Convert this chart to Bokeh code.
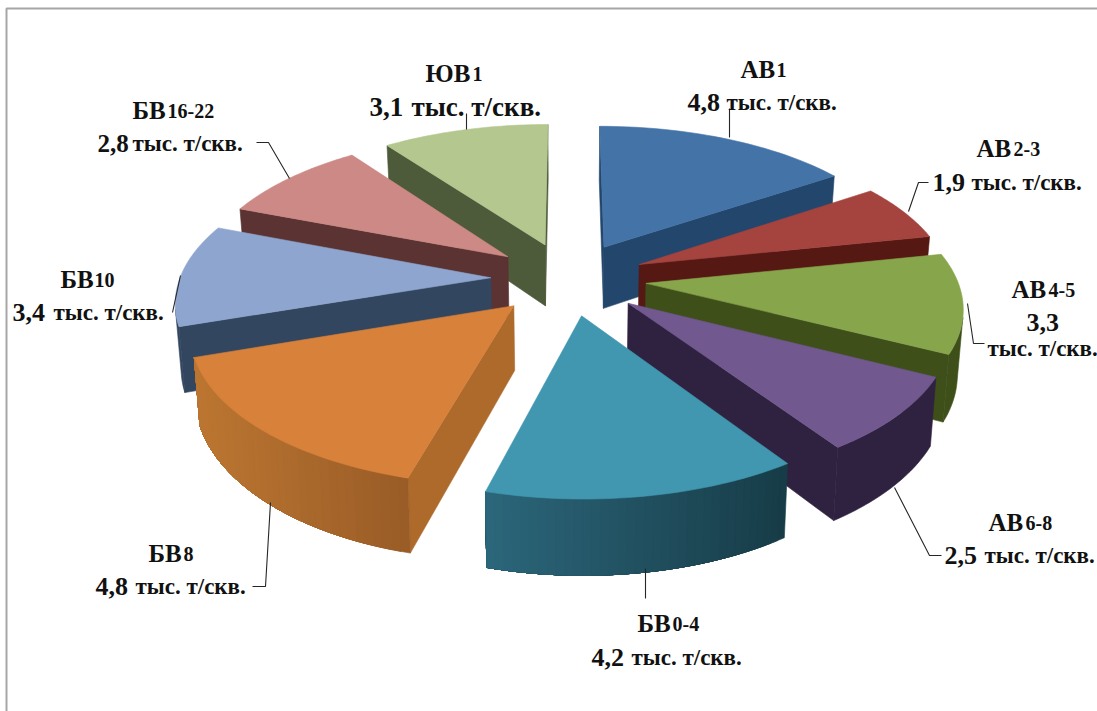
import math
from bokeh.core.properties import value
from bokeh.embed import file_html
from bokeh.models import ColumnDataSource, Range1d
from bokeh.plotting import figure
from bokeh.resources import INLINE

# Chart content, clockwise from twelve o'clock
names = ["АВ", "АВ", "АВ", "АВ", "БВ", "БВ", "БВ", "БВ", "ЮВ"]
subscripts = ["1", "2-3", "4-5", "6-8", "0-4", "8", "10", "16-22", "1"]
values = [4.8, 1.9, 3.3, 2.5, 4.2, 4.8, 3.4, 2.8, 3.1]
unit = "тыс. т/скв."

# Surface colours
top_colors = ["#4473A8", "#A5433F", "#87A54B", "#71588F", "#4197B0",
              "#D7813A", "#8EA6CF", "#CD8985", "#B3C78F"]
side_colors = ["#23466C", "#561812", "#3E4F1A", "#2F2240", "#173C48",
               "#AE6A2B", "#33465F", "#5A3332", "#4E5B3A"]
arc_left_colors = ["#23466C", "#561812", "#3E4F1A", "#2F2240", "#2C677B",
                   "#BC7631", "#33465F", "#5A3332", "#4E5B3A"]
arc_right_colors = ["#23466C", "#561812", "#3E4F1A", "#2F2240", "#173C48",
                    "#9A5D27", "#33465F", "#5A3332", "#4E5B3A"]

# Projection of the tilted disc onto the page
CX, CY = 568.0, 278.0
SCALE_X, SCALE_Y = 311.0, 146.0
PERSPECTIVE = 0.14
DEPTH = 63.0
BOTTOM_SHRINK = 0.985
EXPLODE = 0.25
ARC_STEPS = 36

# Text runs per label: name x, name baseline, subscript x, value x, value baseline,
# unit x, unit baseline, value size, unit size
label_layout = [
    (740, 69, 776, 687, 102, 726, 102, 26, 23),
    (976, 148, 1013, 932, 182, 971, 182, 26, 23),
    (1011, 289, 1048, 1026, 322, 987, 348, 26, 23),
    (988, 522, 1025, 944, 555, 984, 555, 26, 23),
    (637, 623, 672, 591, 657, 631, 657, 26, 23),
    (148, 553, 183, 95, 586, 135, 586, 26, 23),
    (60, 279, 94, 12, 312, 53, 312, 26, 23),
    (132, 110, 167, 97, 143, 132, 143, 25, 23),
    (425, 73, 472, 369, 106, 411, 106, 27, 27),
]
leader_paths = [
    [(729, 108), (729, 137)],
    [(928, 182), (918, 182), (908, 211)],
    [(967, 303), (973, 343), (984, 343)],
    [(941, 555), (929, 555), (894, 487)],
    [(645, 568), (645, 598)],
    [(252, 586), (265, 586), (270, 502)],
    [(172, 312), (180, 275)],
    [(256, 142), (268, 142), (289, 178)],
    [(466, 113), (466, 129)],
]


def project(u, v, lower=False):
    d = 1 + PERSPECTIVE * v
    x = SCALE_X * u / d
    y = CY - SCALE_Y * v / d
    if lower:
        x *= BOTTOM_SHRINK
        y += DEPTH / d
    return CX + x, y


def signed_area(points):
    total = 0.0
    for i, (x0, y0) in enumerate(points):
        x1, y1 = points[(i + 1) % len(points)]
        total += x0 * y1 - x1 * y0
    return total


def blend(c0, c1, t):
    a = [int(c0[i:i + 2], 16) for i in (1, 3, 5)]
    b = [int(c1[i:i + 2], 16) for i in (1, 3, 5)]
    return "#" + "".join(f"{round(p + (q - p) * t):02X}" for p, q in zip(a, b))


# Turn the values into wedges on the unit disc
total = sum(values)
wedges = []
start = 0.0
for i, val in enumerate(values):
    sweep = 2 * math.pi * val / total
    wedges.append((i, start, start + sweep))
    start += sweep


def mid_depth(w):
    return -math.cos((w[1] + w[2]) / 2)


xs, ys, fills = [], [], []


def add_face(points, color):
    xs.append([p[0] for p in points])
    ys.append([p[1] for p in points])
    fills.append(color)


# Paint from the back of the disc to the front
for i, a0, a1 in sorted(wedges, key=mid_depth):
    mid = (a0 + a1) / 2
    ou, ov = EXPLODE * math.sin(mid), EXPLODE * math.cos(mid)
    rim = []
    for s in range(ARC_STEPS + 1):
        a = a0 + (a1 - a0) * s / ARC_STEPS
        rim.append((ou + math.sin(a), ov + math.cos(a)))
    apex = (ou, ov)

    for p_, q_ in ((apex, rim[0]), (rim[-1], apex)):
        quad = [project(*p_), project(*q_), project(*q_, True), project(*p_, True)]
        if signed_area(quad) < 0:
            add_face(quad, side_colors[i])

    # Visible stretch of the rim wall, shaded in overlapping bands so no seams appear
    visible = []
    for p_, q_ in zip(rim[:-1], rim[1:]):
        quad = [project(*p_), project(*q_), project(*q_, True), project(*p_, True)]
        if signed_area(quad) < 0:
            visible.append((p_, q_))
    if visible:
        run_pts = [visible[0][0]] + [seg[1] for seg in visible]
        upper = [project(*r) for r in run_pts]
        lower = [project(*r, True) for r in run_pts]
        lo = min(pt[0] for pt in upper)
        hi = max(pt[0] for pt in upper)
        flat = arc_left_colors[i] == arc_right_colors[i]
        for k in ([0] if flat else range(len(run_pts) - 1)):
            t = (upper[k][0] - lo) / max(hi - lo, 1.0)
            add_face(upper[k:] + lower[k:][::-1], blend(arc_left_colors[i], arc_right_colors[i], t))

    add_face([project(*apex)] + [project(*r) for r in rim], top_colors[i])

p = figure(width=1097, height=711, x_range=Range1d(0, 1097), y_range=Range1d(711, 0),
           x_axis_type=None, y_axis_type=None, toolbar_location=None,
           output_backend="svg", min_border=0, outline_line_color=None,
           background_fill_color="#FFFFFF", border_fill_color="#FFFFFF")
p.grid.visible = False

# Frame of the chart area
p.line([6, 6, 1097], [711, 8, 8], line_color="#A6A6A6", line_width=2)

p.patches("xs", "ys", source=ColumnDataSource(dict(xs=xs, ys=ys, fill=fills)),
          fill_color="fill", line_color="fill", line_width=0.6)

for path in leader_paths:
    p.line([q[0] for q in path], [q[1] for q in path], line_color="#262626", line_width=1.1)


def run(x, y, text, size):
    p.text([x], [y], text=[text], text_font=value("Liberation Serif"),
           text_font_style="bold", text_font_size=f"{size}px", text_color="#111111",
           text_align="left", text_baseline="alphabetic")


for i, layout in enumerate(label_layout):
    nx, ny, sx, vx, vy, ux, uy, vsize, usize = layout
    run(nx, ny, names[i], 25)
    run(sx, ny, subscripts[i], 20)
    run(vx, vy, f"{values[i]:.1f}".replace(".", ","), vsize)
    run(ux, uy, unit, usize)

open("out.html", "w").write(file_html(p, INLINE))
